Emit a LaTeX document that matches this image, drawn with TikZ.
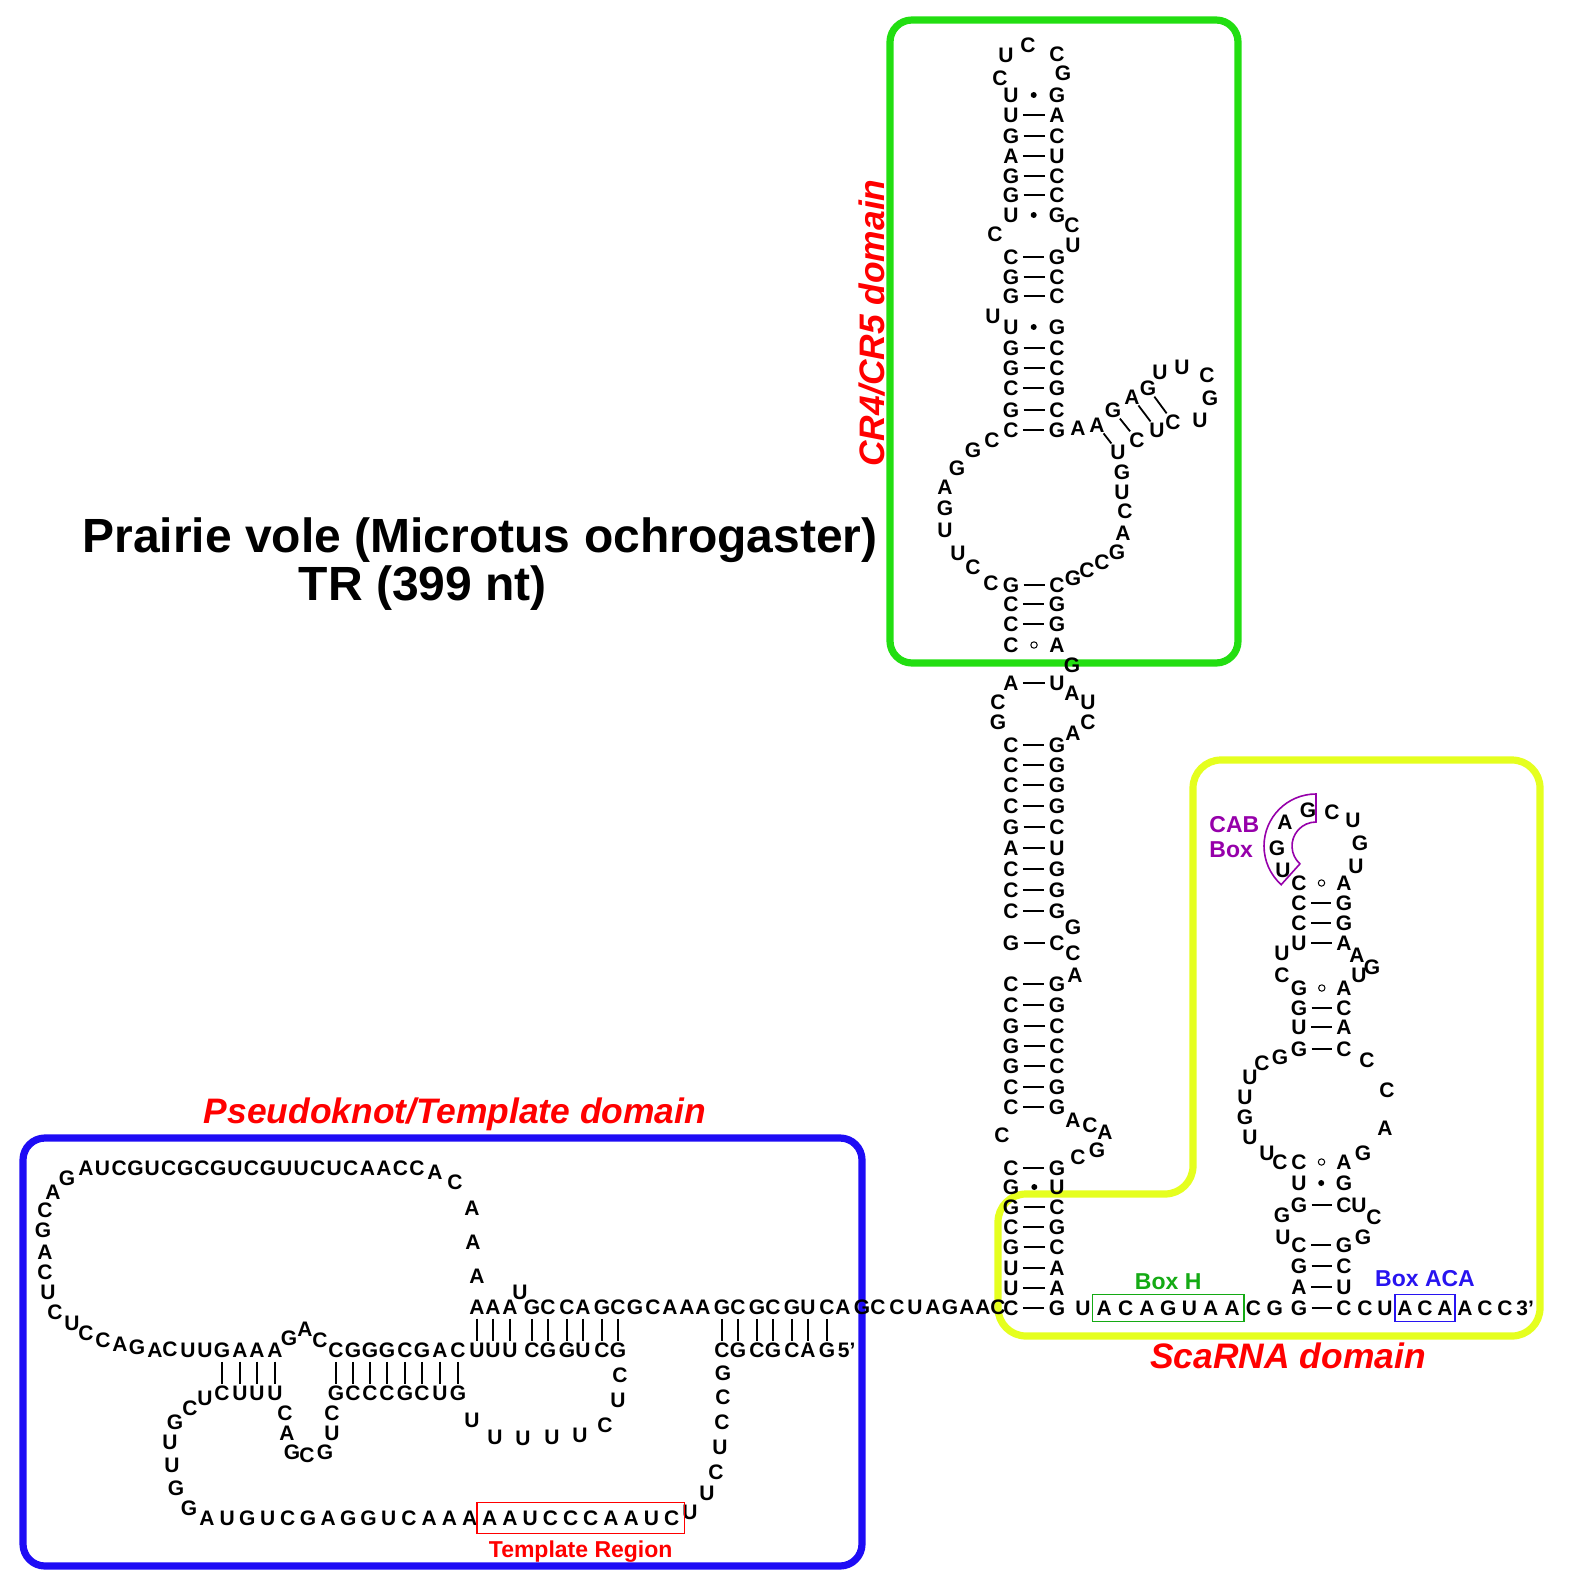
\documentclass[tikz,border=0pt]{standalone}
\usepackage{fontspec}
\setmainfont{Liberation Sans}
\usetikzlibrary{positioning,fit}
\definecolor{crgreen}{RGB}{34,222,17}
\definecolor{scayellow}{RGB}{229,255,31}
\definecolor{pkblue}{RGB}{30,12,245}
\definecolor{domred}{RGB}{255,0,0}
\definecolor{cabpurple}{RGB}{150,0,170}
\definecolor{boxhgreen}{RGB}{20,170,20}
\definecolor{acablue}{RGB}{40,20,240}
\begin{document}
\begin{tikzpicture}[x=0.5pt,y=-0.5pt]
    \tikzstyle{nt}=[inner sep=0pt, font=\bfseries\fontsize{10.5}{12}\selectfont]
    \tikzstyle{bp}=[line width=0.9pt, shorten <=2pt, shorten >=2pt]
    \tikzstyle{bpd}=[line width=0.9pt, shorten <=0.5pt, shorten >=0.5pt]
    \tikzstyle{pktick}=[line width=0.8pt, shorten <=2pt, shorten >=0.5pt]
    \tikzstyle{gu}=[circle, fill=black, inner sep=0pt, minimum size=3pt]
    \tikzstyle{mm}=[circle, draw=black, line width=0.5pt, inner sep=0pt, minimum size=3.2pt]
    \tikzstyle{dombox}=[line width=3.6pt, rounded corners=11pt]
    \tikzstyle{domlabel}=[text=domred, font=\bfseries\itshape\fontsize{17.7}{20}\selectfont]
    \tikzstyle{blabel}=[inner sep=0pt, font=\bfseries\fontsize{11.5}{12.5}\selectfont]
    \tikzstyle{motifbox}=[draw, line width=0.8pt, inner ysep=3pt]
    \useasboundingbox (0,0) rectangle (1584,1584);
    % domain frames
    \draw[dombox, crgreen] (890,20) rectangle (1238,663);
    \draw[dombox, pkblue] (23,1138) rectangle (862,1566);
    \draw[dombox, scayellow, rounded corners=14pt] (1193,760) -- (1540,760) -- (1540,1336) -- (998,1336) -- (998,1194) -- (1193,1194) -- cycle;
    % title and domain names
    \node[font=\bfseries\fontsize{24}{28}\selectfont] (title) at (480,540) {Prairie vole (Microtus ochrogaster)};
    \node[font=\bfseries\fontsize{24}{28}\selectfont] (trlen) at (423,588) {TR (399 nt)};
    \node[domlabel, rotate=90] (crlabel) at (872,323) {CR4/CR5 domain};
    \node[domlabel] (pklabel) at (455,1114) {Pseudoknot/Template domain};
    \node[domlabel] (scalabel) at (1288,1356) {ScaRNA domain};
    % main helix
    \foreach \y/\l/\r/\t [count=\i] in {95/U/G/1,115/U/A/0,136/G/C/0,156/A/U/0,176/G/C/0,195/G/C/0,215/U/G/1,
      257/C/G/0,277/G/C/0,296/G/C/0,327/U/G/1,348/G/C/0,368/G/C/0,388/C/G/0,410/G/C/0,430/C/G/0,
      585/G/C/0,604/C/G/0,624/C/G/0,645/C/A/2,683/A/U/0,745/C/G/0,765/C/G/0,785/C/G/0,806/C/G/0,
      827/G/C/0,848/A/U/0,869/C/G/0,890/C/G/0,911/C/G/0,943/G/C/0,984/C/G/0,1005/C/G/0,1026/G/C/0,
      1046/G/C/0,1066/G/C/0,1087/C/G/0,1107/C/G/0,1168/C/G/0,1187/G/U/1,1207/G/C/0,1227/C/G/0,
      1247/G/C/0,1268/U/A/0,1288/U/A/0,1308/C/G/0}{
      \node[nt] (ml\i) at (1011,\y) {\l};
      \node[nt] (mr\i) at (1057,\y) {\r};
      \ifcase\t\relax \draw[bp] (ml\i) -- (mr\i);
      \or \path (ml\i) -- node[gu] {} (mr\i);
      \else \path (ml\i) -- node[mm] {} (mr\i);
      \fi
    }
    \foreach \x/\y/\b [count=\i] in {1000/78/C,1006/55/U,1028/45/C,1057/54/C,1063/73/G,
      1072/225/C,1073/245/U,995/234/C,993/316/U,
      992/440/C,973/450/G,957/468/G,945/487/A,945/508/G,945/530/U,958/553/U,973/567/C,991/583/C,
      1078/428/A,1160/372/U,1182/367/U,1207/375/C,1210/398/G,1200/420/U,
      1122/472/G,1122/492/U,1125/511/C,1123/533/A,1117/552/G,1102/562/C,1087/570/C,1073/578/G,
      1072/665/G,998/702/C,998/722/G,1072/693/A,1088/702/U,1088/722/C,1073/733/A,
      1073/927/G,1073/953/C,1075/975/A,
      1073/1120/A,1090/1125/C,1105/1132/A,1097/1150/G,1078/1157/C,1002/1135/C}
      \node[nt] (mu\i) at (\x,\y) {\b};
    % small hairpin on the CR4/CR5 loop
    \foreach \xa/\ya/\ba/\xb/\yb/\bb [count=\i] in {1097/425/A/1118/452/U,1113/410/G/1137/440/C,
      1132/397/A/1157/430/U,1148/388/G/1173/422/C}{
      \node[nt] (ha\i) at (\xa,\ya) {\ba};
      \node[nt] (hb\i) at (\xb,\yb) {\bb};
      \draw[bpd] (ha\i) -- (hb\i);
    }
    % scaRNA hairpin
    \foreach \y/\l/\r/\t [count=\i] in {883/C/A/2,903/C/G/0,923/C/G/0,943/U/A/0,988/G/A/2,1008/G/C/0,
      1027/U/A/0,1049/G/C/0,1162/C/A/2,1183/U/G/1,1205/G/C/0,1245/C/G/0,1266/G/C/0,1287/A/U/0,1308/G/C/0}{
      \node[nt] (sl\i) at (1299,\y) {\l};
      \node[nt] (sr\i) at (1344,\y) {\r};
      \ifcase\t\relax \draw[bp] (sl\i) -- (sr\i);
      \or \path (sl\i) -- node[gu] {} (sr\i);
      \else \path (sl\i) -- node[mm] {} (sr\i);
      \fi
    }
    \foreach \x/\y/\b [count=\i] in {1283/870/U,1277/848/G,1285/822/A,1308/810/G,1332/812/C,1353/820/U,
      1360/843/G,1356/866/U,1357/955/A,1372/967/G,1359/975/U,1282/953/U,1282/975/C,
      1280/1057/G,1262/1063/C,1250/1077/U,1245/1097/U,1245/1117/G,1250/1137/U,1267/1153/U,1280/1162/C,
      1367/1060/C,1387/1090/C,1385/1128/A,1363/1153/G,
      1359/1205/U,1374/1217/C,1363/1237/G,1282/1215/G,1283/1237/U}
      \node[nt] (su\i) at (\x,\y) {\b};
    % 3' tail with box H and box ACA
    \foreach \b [count=\i] in {U,A,C,A,G,U,A,A,C,G}
      \node[nt] (br\i) at ({1083+21.3*(\i-1)},1308) {\b};
    \foreach \b [count=\i] in {C,U,A,C,A,A,C,C}
      \node[nt] (bt\i) at ({1365+20*(\i-1)},1308) {\b};
    \node[nt, right=1.5pt of bt8] (end3) {3'};
    \node[motifbox, draw=boxhgreen, inner xsep=2pt, fit=(br2)(br8)] (boxh) {};
    \node[blabel, text=boxhgreen, above=1.5pt of boxh] (boxhlabel) {Box H};
    \node[motifbox, draw=acablue, inner xsep=1pt, fit=(bt3)(bt5)] (boxaca) {};
    \node[blabel, text=acablue, above=3pt of boxaca] (acalabel) {Box ACA};
    % CAB box
    \coordinate (cabc) at (1316,846);
    \draw[cabpurple, line width=0.8pt] (cabc) ++(270:52) arc[start angle=270, end angle=132, radius=52]
      -- ++(132:-28) arc[start angle=132, end angle=270, radius=24] -- cycle;
    \node[blabel, text=cabpurple, align=left, anchor=west] (cablabel) at (1209,837) {CAB\\Box};
    % pseudoknot / template
    \foreach \b [count=\i] in {A,U,C,G,U,C,G,C,G,U,C,G,U,U,C,U,C,A,A,C,C}
      \node[nt] (pt\i) at ({86+16.55*(\i-1)},1168) {\b};
    \foreach \x/\y/\b [count=\i] in {435/1172/A,455/1182/C,472/1208/A,473/1242/A,477/1276/A,520/1292/U,
      67/1178/G,53/1192/A,45/1210/C,43/1230/G,45/1252/A,45/1272/C,48/1292/U,55/1312/C,72/1323/U,
      86/1333/C,103/1340/C,120/1344/A,137/1347/G,155/1350/A,170/1349/C,188/1350/U,205/1350/U,
      289/1338/G,305/1329/A,320/1340/C,
      205/1398/U,190/1408/C,175/1422/G,170/1442/U,172/1465/U,176/1488/G,189/1508/G,
      285/1413/C,287/1433/A,292/1452/G,307/1455/C,325/1452/G,332/1433/U,332/1413/C,
      472/1420/U,495/1437/U,523/1438/U,552/1437/U,580/1435/U,605/1425/C,618/1400/U,620/1375/C,
      723/1373/G,723/1397/C,722/1422/C,720/1447/U,716/1472/C,707/1493/U,690/1512/U,
      635/1307/G,653/1307/C,670/1307/A,687/1307/A,703/1307/A,
      843/1307/A,862/1307/G,878/1307/C,897/1307/C,915/1307/U,933/1307/A,950/1307/G,967/1307/A,
      983/1307/A,998/1307/C}
      \node[nt] (pu\i) at (\x,\y) {\b};
    \foreach \x/\u/\d [count=\i] in {222/G/C,240/A/U,257/A/U,275/A/U,
      336/C/G,353/G/C,370/G/C,387/G/C,405/C/G,422/G/C,440/A/U,458/C/G}{
      \node[nt] (pa\i) at (\x,1350) {\u};
      \node[nt] (pb\i) at (\x,1393) {\d};
      \draw[pktick] (pa\i) -- (pb\i);
    }
    \foreach \x/\u/\d [count=\i] in {477/A/U,493/A/U,510/A/U,532/G/C,548/C/G,567/C/G,583/A/U,602/G/C,618/C/G,
      722/G/C,738/C/G,757/G/C,773/C/G,792/G/C,808/U/A,827/C/G}{
      \node[nt] (pk\i) at (\x,1307) {\u};
      \node[nt] (pl\i) at (\x,1350) {\d};
      \draw[pktick] (pk\i) -- (pl\i);
    }
    \node[nt, right=1pt of pl16] (end5) {5'};
    \foreach \b [count=\i] in {A,U,G,U,C,G,A,G,G,U,C,A,A,A,A,A,U,C,C,C,A,A,U,C}
      \node[nt] (tb\i) at ({207+20.2*(\i-1)},1518) {\b};
    \node[motifbox, draw=domred, inner xsep=2.5pt, inner ysep=3.8pt, fit=(tb15)(tb24)] (tmpl) {};
    \node[blabel, text=domred, below=3pt of tmpl] (tmpllabel) {Template Region};
\end{tikzpicture}
\end{document}
